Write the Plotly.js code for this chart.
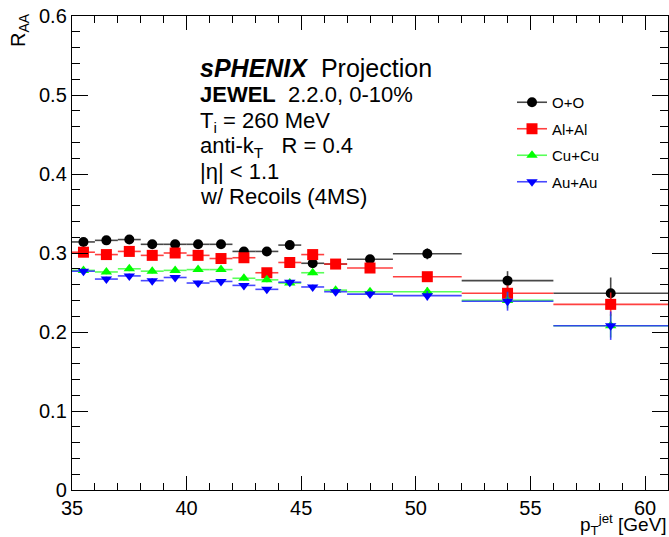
<!DOCTYPE html>
<html>
<head>
<meta charset="utf-8">
<script src="https://cdn.plot.ly/plotly-3.0.1.min.js"></script>
<style>html,body{margin:0;padding:0;background:#fff;}#chart{width:669px;height:537px;}</style>
</head>
<body>
<div id="chart"></div>
<script>
// Bin centres and half widths (pT jet, GeV)
var binCenters = [35.5, 36.5, 37.5, 38.5, 39.5, 40.5, 41.5, 42.5, 43.5, 44.5, 45.5, 46.5, 48, 50.5, 54, 58.5];
var binHalfWidths = [0.5, 0.5, 0.5, 0.5, 0.5, 0.5, 0.5, 0.5, 0.5, 0.5, 0.5, 0.5, 1, 1.5, 2, 2.5];

// R_AA values
var raaOO   = [0.314, 0.316, 0.317, 0.311, 0.311, 0.311, 0.311, 0.302, 0.302, 0.310, 0.287, 0.286, 0.292, 0.299, 0.265, 0.249];
var raaAlAl = [0.301, 0.298, 0.302, 0.297, 0.300, 0.297, 0.293, 0.294, 0.275, 0.288, 0.298, 0.286, 0.281, 0.270, 0.249, 0.235];
var raaCuCu = [0.278, 0.276, 0.280, 0.277, 0.278, 0.279, 0.279, 0.268, 0.266, 0.262, 0.275, 0.253, 0.251, 0.251, 0.240, 0.208];
var raaAuAu = [0.277, 0.267, 0.271, 0.265, 0.269, 0.262, 0.264, 0.259, 0.254, 0.263, 0.257, 0.251, 0.248, 0.246, 0.239, 0.208];

// statistical errors
var errOO   = [0.003, 0.003, 0.003, 0.003, 0.003, 0.003, 0.003, 0.003, 0.003, 0.003, 0.003, 0.003, 0.004, 0.007, 0.012, 0.02];
var errAlAl = [0.003, 0.003, 0.003, 0.003, 0.003, 0.003, 0.003, 0.003, 0.003, 0.003, 0.003, 0.004, 0.004, 0.006, 0.010, 0.015];
var errCuCu = [0.003, 0.003, 0.003, 0.003, 0.003, 0.003, 0.003, 0.003, 0.003, 0.003, 0.003, 0.003, 0.004, 0.006, 0.010, 0.015];
var errAuAu = [0.003, 0.003, 0.003, 0.003, 0.003, 0.003, 0.003, 0.003, 0.003, 0.003, 0.003, 0.003, 0.004, 0.006, 0.012, 0.018];

var seriesNames = ['O+O', 'Al+Al', 'Cu+Cu', 'Au+Au'];
var seriesValues = [raaOO, raaAlAl, raaCuCu, raaAuAu];
var seriesErrors = [errOO, errAlAl, errCuCu, errAuAu];

var markerColors = ['#000000', '#ff0000', '#00ff00', '#0000ff'];
var lineColors = ['rgba(40,40,40,0.85)', 'rgba(255,30,30,0.85)', 'rgba(60,255,60,0.85)', 'rgba(40,40,255,0.85)'];
var symbols = ['circle', 'square', 'triangle-up', 'triangle-down'];
var sizes = [10, 11, 10, 10];

var FONT = 'Liberation Sans, Arial, Helvetica, sans-serif';

var traces = [];
for (var i = 0; i < seriesNames.length; i++) {
  traces.push({
    type: 'scatter', mode: 'markers', x: binCenters, y: seriesValues[i],
    name: seriesNames[i], showlegend: false, hoverinfo: 'x+y',
    marker: {symbol: symbols[i], color: markerColors[i], size: sizes[i], line: {width: 0}},
    error_x: {type: 'data', array: binHalfWidths, symmetric: true, color: lineColors[i], thickness: 1.6, width: 0},
    error_y: {type: 'data', array: seriesErrors[i], symmetric: true, color: lineColors[i], thickness: 1.6, width: 0}
  });
}
for (var j = 0; j < seriesNames.length; j++) {
  traces.push({
    type: 'scatter', mode: 'lines+markers', x: [null], y: [null],
    name: seriesNames[j], legendgroup: 'g' + j, showlegend: true, hoverinfo: 'skip',
    line: {color: lineColors[j], width: 1.6},
    marker: {symbol: symbols[j], color: markerColors[j], size: sizes[j], line: {width: 0}}
  });
}

function px2x(px) { return (px - 72) / 596; }
function py2y(py) { return (490 - py) / 474; }

var textLines = [
  {t: '<b><i>sPHENIX</i></b>\u00a0 Projection', s: 25, base: 76},
  {t: '<b>JEWEL</b>\u00a0 2.2.0, 0-10%', s: 22, base: 101.4},
  {t: 'T<sub>i</sub> = 260 MeV', s: 22, base: 126.8},
  {t: 'anti-k<sub>T</sub>\u00a0\u00a0 R = 0.4', s: 22, base: 152.2},
  {t: '|\u03b7| &lt; 1.1', s: 22, base: 177.6},
  {t: 'w/ Recoils (4MS)', s: 22, base: 203}
];

var annotations = [];
textLines.forEach(function (l) {
  annotations.push({
    xref: 'paper', yref: 'paper', x: px2x(198), y: py2y(l.base - 0.905 * l.s - 1),
    xanchor: 'left', yanchor: 'top', showarrow: false, text: l.t,
    font: {family: FONT, size: l.s, color: '#000'}
  });
});
annotations.push({
  xref: 'paper', yref: 'paper', x: px2x(19), y: py2y(11), xanchor: 'center', yanchor: 'top',
  textangle: -90, showarrow: false, text: 'R<sub>AA</sub>', font: {family: FONT, size: 20, color: '#000'}
});
annotations.push({
  xref: 'paper', yref: 'paper', x: px2x(669), y: py2y(524.5), xanchor: 'right', yanchor: 'middle',
  showarrow: false, text: 'p<sub>T</sub><sup>jet</sup> [GeV]', font: {family: FONT, size: 19, color: '#000'}
});

var layout = {
  width: 669, height: 537,
  margin: {l: 72, r: 1, t: 16, b: 47, pad: 0},
  paper_bgcolor: '#ffffff', plot_bgcolor: '#ffffff',
  font: {family: FONT, color: '#000'},
  showlegend: true,
  legend: {
    x: px2x(512), y: py2y(86), xanchor: 'left', yanchor: 'top',
    font: {family: FONT, size: 15, color: '#000'},
    bgcolor: 'rgba(0,0,0,0)', borderwidth: 0,
    traceorder: 'grouped', tracegroupgap: 4, itemwidth: 30
  },
  xaxis: {
    range: [35, 61], tick0: 35, dtick: 5, ticks: 'inside', ticklen: 14, tickwidth: 1, tickcolor: '#000',
    showline: true, linecolor: '#000', linewidth: 1.2, mirror: 'ticks', showgrid: false, zeroline: false,
    tickfont: {family: FONT, size: 20, color: '#000'},
    minor: {dtick: 1, ticks: 'inside', ticklen: 7, tickcolor: '#000', tickwidth: 1, showgrid: false}
  },
  yaxis: {
    range: [0, 0.6], tick0: 0, dtick: 0.1, ticks: 'inside', ticklen: 16, tickwidth: 1, tickcolor: '#000',
    showline: true, linecolor: '#000', linewidth: 1.2, mirror: 'ticks', showgrid: false, zeroline: false,
    tickfont: {family: FONT, size: 20, color: '#000'},
    minor: {dtick: 0.02, ticks: 'inside', ticklen: 8, tickcolor: '#000', tickwidth: 1, showgrid: false}
  },
  annotations: annotations
};

Plotly.newPlot('chart', traces, layout, {staticPlot: true, displayModeBar: false});
</script>
</body>
</html>
